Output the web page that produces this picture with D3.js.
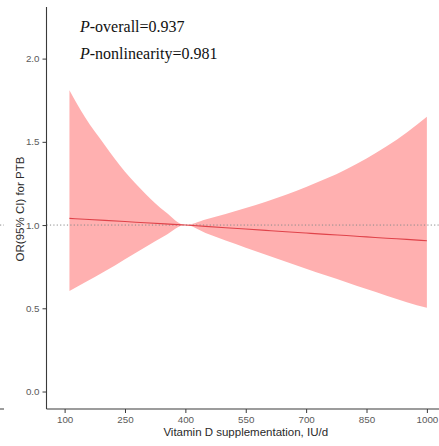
<!DOCTYPE html>
<html>
<head>
<meta charset="utf-8">
<script src="https://cdn.jsdelivr.net/npm/d3@7"></script>
<style>
  html, body { margin: 0; padding: 0; background: #fff; }
  svg { display: block; }
</style>
</head>
<body>
<svg id="chart" width="439" height="446"></svg>
<script>
// Vitamin D dose (IU/d) grid
const dose = [112, 150, 200, 250, 300, 350, 400, 450, 500, 550, 600, 650, 700, 750, 800, 850, 900, 950, 1000];
// Odds ratio for PTB (reference at 400 IU/d)
const orEst = [1.040, 1.035, 1.028, 1.021, 1.014, 1.007, 1.000, 0.992, 0.984, 0.976, 0.968, 0.960, 0.952, 0.944, 0.937, 0.929, 0.921, 0.914, 0.906];
// 95% CI bounds
const ciLower = [0.604, 0.655, 0.722, 0.795, 0.867, 0.937, 1.000, 0.953, 0.907, 0.864, 0.822, 0.780, 0.738, 0.697, 0.657, 0.616, 0.576, 0.537, 0.503];
const ciUpper = [1.81, 1.65, 1.48, 1.32, 1.19, 1.08, 1.000, 1.033, 1.067, 1.102, 1.140, 1.182, 1.228, 1.279, 1.336, 1.400, 1.473, 1.556, 1.650];
// Axis ticks
const xTicks = [100, 250, 400, 550, 700, 850, 1000];
const yTicks = [0.0, 0.5, 1.0, 1.5, 2.0];
const pOverall = "0.937";
const pNonlin = "0.981";

const svg = d3.select("#chart");
const plotL = 46.5, plotR = 445, plotT = 7, plotB = 409;

const x = d3.scaleLinear().domain([55, 1045]).range([plotL, plotR]);
const y = d3.scaleLinear().domain([-0.105, 2.31]).range([plotB, plotT]);

const rows = dose.map((d, i) => ({ d, est: orEst[i], lo: ciLower[i], hi: ciUpper[i] }));

// Confidence band
svg.append("path")
  .datum(rows)
  .attr("fill", "#ffb0b0")
  .attr("d", d3.area()
    .x(r => x(r.d))
    .y0(r => y(r.lo))
    .y1(r => y(r.hi))
    .curve(d3.curveMonotoneX));

// Reference line at OR = 1
svg.append("line")
  .attr("x1", plotL).attr("x2", 439)
  .attr("y1", y(1)).attr("y2", y(1))
  .attr("stroke", "#8a8a8a")
  .attr("stroke-width", 1)
  .attr("stroke-dasharray", "1.2,2.2");

// Point estimate
svg.append("path")
  .datum(rows)
  .attr("fill", "none")
  .attr("stroke", "#e0434a")
  .attr("stroke-width", 1.1)
  .attr("d", d3.line()
    .x(r => x(r.d))
    .y(r => y(r.est))
    .curve(d3.curveMonotoneX));

// Axes
const xAxis = svg.append("g")
  .attr("transform", `translate(0,${plotB})`)
  .call(d3.axisBottom(x).tickValues(xTicks).tickFormat(d3.format("d")).tickSize(4).tickSizeOuter(0).tickPadding(3));
const yAxis = svg.append("g")
  .attr("transform", `translate(${plotL},0)`)
  .call(d3.axisLeft(y).tickValues(yTicks).tickFormat(d3.format(".1f")).tickSize(4).tickSizeOuter(0).tickPadding(3));

[xAxis, yAxis].forEach(g => {
  g.select(".domain").attr("stroke", "#3a3a3a").attr("stroke-width", 1.1);
  g.selectAll(".tick line").attr("stroke", "#3a3a3a").attr("stroke-width", 1);
  g.selectAll(".tick text")
    .attr("fill", "#5a5a5a")
    .style("font-family", "'Liberation Sans', Arial, sans-serif")
    .style("font-size", "9.8px");
});
// axis lines run the full panel extent
xAxis.select(".domain").attr("d", `M${plotL},0H439`);
yAxis.select(".domain").attr("d", `M0,${plotT}V${plotB}`);

// edge of the neighbouring panel
svg.append("line")
  .attr("x1", 0).attr("x2", 4).attr("y1", y(1)).attr("y2", y(1))
  .attr("stroke", "#8a8a8a").attr("stroke-dasharray", "1.2,2.2");
svg.append("line")
  .attr("x1", 0).attr("x2", 4).attr("y1", plotB).attr("y2", plotB)
  .attr("stroke", "#3a3a3a").attr("stroke-width", 1);

// Axis titles
svg.append("text")
  .attr("x", (plotL + plotR) / 2)
  .attr("y", 435.5)
  .attr("text-anchor", "middle")
  .attr("fill", "#2a2a2a")
  .style("font-family", "'Liberation Sans', Arial, sans-serif")
  .style("font-size", "11.5px")
  .text("Vitamin D supplementation, IU/d");

svg.append("text")
  .attr("transform", `translate(24,${(plotT + plotB) / 2 + 1}) rotate(-90)`)
  .attr("text-anchor", "middle")
  .attr("fill", "#2a2a2a")
  .style("font-family", "'Liberation Sans', Arial, sans-serif")
  .style("font-size", "11.5px")
  .text("OR(95% CI) for PTB");

// P-value annotations
const ann = svg.append("g")
  .style("font-family", "'Liberation Serif', 'Times New Roman', serif")
  .style("font-size", "16px")
  .attr("fill", "#111");
const t1 = ann.append("text").attr("x", 80).attr("y", 32);
t1.append("tspan").style("font-style", "italic").text("P");
t1.append("tspan").text("-overall=" + pOverall);
const t2 = ann.append("text").attr("x", 80).attr("y", 58.5);
t2.append("tspan").style("font-style", "italic").text("P");
t2.append("tspan").text("-nonlinearity=" + pNonlin);
</script>
</body>
</html>
